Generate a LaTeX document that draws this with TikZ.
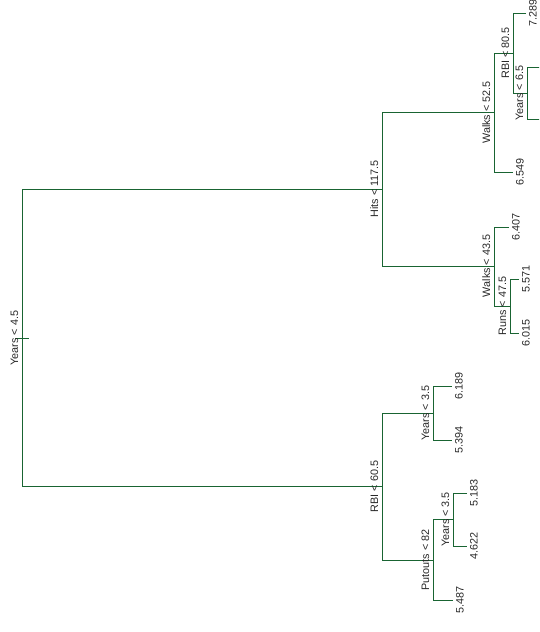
\documentclass[tikz,border=0pt]{standalone}
\usepackage{fontspec}
\setmainfont{Liberation Sans}
\definecolor{treegreen}{RGB}{25,100,50}
\definecolor{labelgray}{RGB}{40,40,40}
\newcommand\treesplit[3]{\draw[edge] (#2) -- (#1 |- #2) -- (#1 |- #3) -- (#3);}
\begin{document}
\begin{tikzpicture}[x=1pt,y=-1pt,
  edge/.style={draw=treegreen, line width=1pt},
  splitlabel/.style={rotate=90, anchor=base, inner sep=0pt, text=labelgray, font=\fontsize{10.8}{13}\selectfont},
  leaflabel/.style={rotate=90, anchor=north, inner sep=0pt, text=labelgray, font=\fontsize{10.8}{13}\selectfont}]
\useasboundingbox (0,0) rectangle (539,632);
\clip (0,0) rectangle (539,632);
% internal nodes
\coordinate (R) at (22,338);
\coordinate (H) at (382,189);
\coordinate (W1) at (494,112.5);
\coordinate (RB2) at (513,53);
\coordinate (Y65) at (527,93);
\coordinate (W2) at (494,266);
\coordinate (RU) at (510,306);
\coordinate (RB1) at (382,486.5);
\coordinate (Y35a) at (433,413);
\coordinate (PU) at (433,560);
\coordinate (Y35b) at (453,519.5);
% leaves
\coordinate (L7289) at (526,13);
\coordinate (LY65a) at (545,67);
\coordinate (LY65b) at (545,119);
\coordinate (L6549) at (513,172);
\coordinate (L6407) at (509,227);
\coordinate (L5571) at (519,279);
\coordinate (L6015) at (519,333);
\coordinate (L6189) at (452,386);
\coordinate (L5394) at (452,440);
\coordinate (L5183) at (467,493);
\coordinate (L4622) at (467,546);
\coordinate (L5487) at (453,600);
% branches
\draw[edge] ([xshift=-7pt]R) -- ([xshift=7pt]R);
\treesplit{R}{H}{RB1}
\treesplit{H}{W1}{W2}
\treesplit{W1}{RB2}{L6549}
\treesplit{RB2}{L7289}{Y65}
\treesplit{Y65}{LY65a}{LY65b}
\treesplit{W2}{L6407}{RU}
\treesplit{RU}{L5571}{L6015}
\treesplit{RB1}{Y35a}{PU}
\treesplit{Y35a}{L6189}{L5394}
\treesplit{PU}{Y35b}{L5487}
\treesplit{Y35b}{L5183}{L4622}
% split labels
\node[splitlabel] (tR) at ([xshift=-4pt]R) {Years < 4.5};
\node[splitlabel] (tH) at ([xshift=-4pt]H) {Hits < 117.5};
\node[splitlabel] (tW1) at ([xshift=-4pt]W1) {Walks < 52.5};
\node[splitlabel] (tRB2) at ([xshift=-4pt]RB2) {RBI < 80.5};
\node[splitlabel] (tY65) at ([xshift=-4pt]Y65) {Years < 6.5};
\node[splitlabel] (tW2) at ([xshift=-4pt]W2) {Walks < 43.5};
\node[splitlabel] (tRU) at ([xshift=-4pt]RU) {Runs < 47.5};
\node[splitlabel] (tRB1) at ([xshift=-4pt]RB1) {RBI < 60.5};
\node[splitlabel] (tY35a) at ([xshift=-4pt]Y35a) {Years < 3.5};
\node[splitlabel] (tPU) at ([xshift=-4pt]PU) {Putouts < 82};
\node[splitlabel] (tY35b) at ([xshift=-4pt]Y35b) {Years < 3.5};
% leaf labels
\node[leaflabel] (t7289) at ([xshift=3pt]L7289) {7.289};
\node[leaflabel] (t6549) at ([xshift=3pt]L6549) {6.549};
\node[leaflabel] (t6407) at ([xshift=3pt]L6407) {6.407};
\node[leaflabel] (t5571) at ([xshift=3pt]L5571) {5.571};
\node[leaflabel] (t6015) at ([xshift=3pt]L6015) {6.015};
\node[leaflabel] (t6189) at ([xshift=3pt]L6189) {6.189};
\node[leaflabel] (t5394) at ([xshift=3pt]L5394) {5.394};
\node[leaflabel] (t5183) at ([xshift=3pt]L5183) {5.183};
\node[leaflabel] (t4622) at ([xshift=3pt]L4622) {4.622};
\node[leaflabel] (t5487) at ([xshift=3pt]L5487) {5.487};
\end{tikzpicture}
\end{document}
